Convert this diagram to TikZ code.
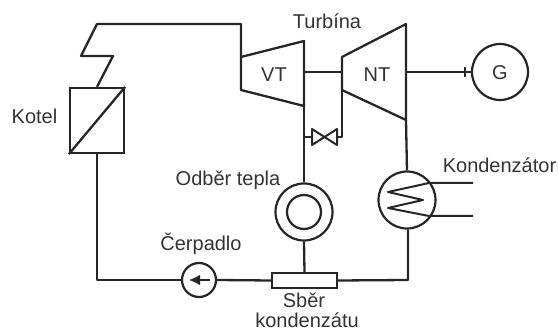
\documentclass[tikz,border=0pt]{standalone}
\usepackage{fontspec}
\setmainfont{Liberation Sans}
\usetikzlibrary{arrows.meta}
\definecolor{ln}{HTML}{262626}
\definecolor{tx}{HTML}{333333}
\tikzset{
  pipe/.style={draw=ln,line width=2.3pt,line join=round},
  thin pipe/.style={draw=ln,line width=2pt,line join=round},
  lbl/.style={text=tx,font=\fontsize{20pt}{24pt}\selectfont,inner sep=0pt,align=center},
  circ/.style={circle,draw=ln,line width=2.2pt,inner sep=0pt,fill=white},
  box/.style={rectangle,draw=ln,line width=2.3pt,inner sep=0pt,fill=white}
}
\begin{document}
\begin{tikzpicture}[x=1pt,y=-1pt]
\useasboundingbox (0,0) rectangle (558,331);
% coordinates
\coordinate (vtTL) at (241,57);
\coordinate (vtTR) at (304,41);
\coordinate (vtBR) at (304,106);
\coordinate (vtBL) at (241,90);
\coordinate (ntTL) at (342,57);
\coordinate (ntTR) at (406,24);
\coordinate (ntBR) at (406,120);
\coordinate (ntBL) at (342,90);
\coordinate (s1) at (113,56);
\coordinate (s2) at (81,56);
\coordinate (s3) at (97,24);
\coordinate (s4) at (241,24);
\coordinate (vtOut) at (304,72);
\coordinate (ntIn) at (342,72);
\coordinate (ntOut) at (406,72);
\coordinate (tick) at (465,72);
\coordinate (vL) at (312,137);
\coordinate (vR) at (337,137);
\coordinate (tapL) at (304,137);
\coordinate (tapR) at (342,137);
\coordinate (retCorner) at (408,280);
\coordinate (feedCorner) at (97,280);
\coordinate (cw1) at (473,183);
\coordinate (cw2) at (473,216);
% components
\node[box,minimum width=54pt,minimum height=65pt] (boiler) at (97,120.5) {};
\node[circ,minimum size=56pt] (gen) at (500,72) {};
\node[circ,minimum size=57pt] (heat) at (304,212) {};
\node[circ,minimum size=34pt] (heatIn) at (304,212) {};
\node[circ,minimum size=34pt] (pump) at (199,280) {};
\node[box,minimum width=65pt,minimum height=15pt] (coll) at (304.5,280.5) {};
\node[circ,minimum size=57pt,fill=none] (cond) at (407,200) {};
% connectors
\draw[pipe] (boiler.north) -- (s1) -- (s2) -- (s3) -- (s4) -- (vtTL);
\draw[pipe] (boiler.south west) -- (boiler.north east);
\draw[pipe] (vtTL) -- (vtTR) -- (vtBR) -- (vtBL) -- cycle;
\draw[pipe] (ntTL) -- (ntTR) -- (ntBR) -- (ntBL) -- cycle;
\draw[pipe] (vtOut) -- (ntIn);
\draw[pipe] (ntOut) -- (gen.west);
\draw[thin pipe] ([yshift=-5pt]tick) -- ([yshift=5pt]tick);
\draw[pipe] (vtBR) -- (heat.north);
\draw[pipe] (heat.south) -- (coll.north);
\draw[pipe] (ntBR) -- (cond.north);
\draw[pipe] (cond.south -| retCorner) -- (retCorner) -- (coll.east);
\draw[pipe] (coll.west) -- (pump.east);
\draw[pipe] (pump.west) -- (feedCorner) -- (boiler.south);
\draw[pipe] (tapL) -- (vL);
\draw[pipe] (vR) -- (tapR) -- (ntBL);
\draw[thin pipe] (vL) ++(0,-8) -- ++(25,16) -- ++(0,-16) -- ++(-25,16) -- cycle;
\draw[pipe,-{Latex[length=11pt,width=11pt]}] (210,280) -- (189,280);
\draw[thin pipe] (cw1) -- (429,183) -- (388,192) -- (423,200) -- (388,208) -- (429,216) -- (cw2);
% labels
\node[lbl] (tKotel) at (34.5,116.5) {Kotel};
\node[lbl] (tTurb) at (327,21) {Turbína};
\node[lbl] (tVT) at (274,75) {VT};
\node[lbl] (tNT) at (377,75) {NT};
\node[lbl] (tG) at (500,73) {G};
\node[lbl] (tOdb) at (228,180) {Odběr tepla};
\node[lbl] (tCerp) at (201,244) {Čerpadlo};
\node[lbl] (tSb) at (304,300) {Sběr};
\node[lbl] (tKond) at (307,320) {kondenzátu};
\node[lbl] (tKz) at (499.5,165) {Kondenzátor};
\end{tikzpicture}
\end{document}
